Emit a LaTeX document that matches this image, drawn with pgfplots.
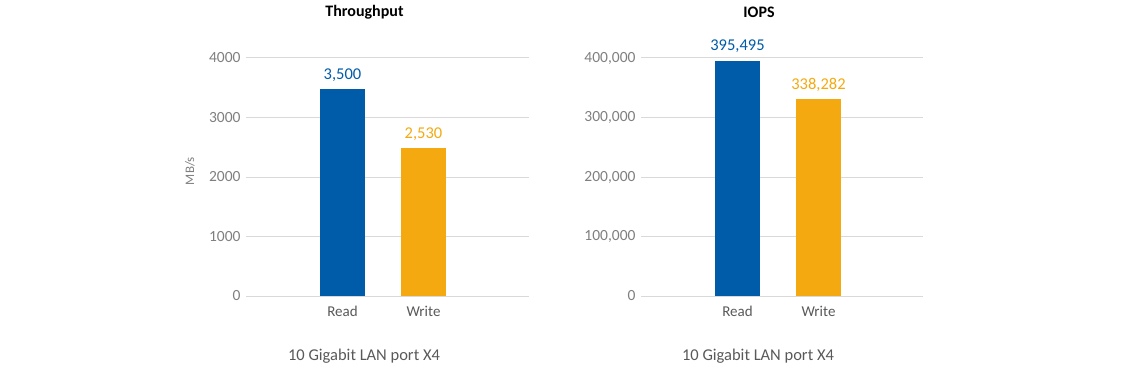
\documentclass[border=0pt]{standalone}
\usepackage{fontspec}
\setmainfont{Carlito}
\usepackage{pgfplots}
\usepackage{pgfplotstable}
\pgfplotsset{compat=1.18}
\definecolor{barblue}{RGB}{0,91,168}
\definecolor{barorange}{RGB}{244,169,16}
\definecolor{gridgray}{RGB}{217,217,217}
\definecolor{tickgray}{RGB}{127,127,127}
\definecolor{textgray}{RGB}{89,89,89}

\pgfplotstableread[row sep=\\]{
x y lab \\
0 3480 3,500 \\
}\tpread
\pgfplotstableread[row sep=\\]{
x y lab \\
1 2490 2,530 \\
}\tpwrite
\pgfplotstableread[row sep=\\]{
x y lab \\
0 395495 395,495 \\
}\ioread
\pgfplotstableread[row sep=\\]{
x y lab \\
1 331000 338,282 \\
}\iowrite

\pgfplotsset{
  mybar/.style={
    scale only axis,
    anchor=south west,
    height=238bp,
    ymin=0,
    axis line style={draw=none},
    major tick length=0pt,
    ymajorgrids,
    grid style={color=gridgray, line width=1bp},
    xtick={0,1},
    xticklabels={Read,Write},
    xticklabel style={font=\fontsize{15bp}{17bp}\selectfont, text=textgray, yshift=-7bp},
    yticklabel style={font=\fontsize{15.5bp}{17bp}\selectfont, text=tickgray, xshift=-2bp},
    ybar,
    bar width=45bp,
    bar shift=0pt,
    clip=false,
    nodes near coords,
    point meta=explicit symbolic,
    every node near coord/.append style={anchor=center, yshift=14bp, font=\fontsize{16.5bp}{18bp}\selectfont},
  }
}

\begin{document}
\begin{tikzpicture}[x=1bp,y=1bp]
\useasboundingbox (0,0) rectangle (1140,368);

\begin{axis}[mybar,
  at={(246bp,72bp)},
  width=283bp,
  xmin=-1.191, xmax=2.302,
  ymax=4000,
  ytick={0,1000,2000,3000,4000},
  yticklabels={0,1000,2000,3000,4000},
]
\addplot[fill=barblue, draw=none, nodes near coords style={text=barblue}] table[x=x,y=y,meta=lab]{\tpread};
\addplot[fill=barorange, draw=none, nodes near coords style={text=barorange}] table[x=x,y=y,meta=lab]{\tpwrite};
\end{axis}

\begin{axis}[mybar,
  at={(641bp,72bp)},
  width=282bp,
  xmin=-1.191, xmax=2.290,
  ymax=400000,
  ytick={0,100000,200000,300000,400000},
  yticklabels={0,{100,000},{200,000},{300,000},{400,000}},
  scaled y ticks=false,
]
\addplot[fill=barblue, draw=none, nodes near coords style={text=barblue}] table[x=x,y=y,meta=lab]{\ioread};
\addplot[fill=barorange, draw=none, nodes near coords style={text=barorange}] table[x=x,y=y,meta=lab]{\iowrite};
\end{axis}

\node[font=\fontsize{16bp}{18bp}\selectfont\bfseries] at (364.5,356) {Throughput};
\node[font=\fontsize{16bp}{18bp}\selectfont\bfseries] at (759,356) {IOPS};
\node[font=\fontsize{16.5bp}{18bp}\selectfont, text=textgray] at (364,12) {10 Gigabit LAN port X4};
\node[font=\fontsize{16.5bp}{18bp}\selectfont, text=textgray] at (758,12) {10 Gigabit LAN port X4};
\node[font=\fontsize{13bp}{15bp}\selectfont, text=tickgray, rotate=90] at (190,197) {MB/s};
\end{tikzpicture}
\end{document}
